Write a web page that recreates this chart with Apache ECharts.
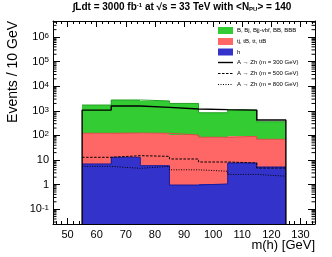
<!DOCTYPE html>
<html><head><meta charset="utf-8">
<script src="https://cdn.jsdelivr.net/npm/echarts@6/dist/echarts.min.js"></script>
<style>html,body{margin:0;padding:0;background:#fff}#c{width:332px;height:257px}</style>
</head><body><div id="c"></div>
<script>
// ---- data ----
const binEdges = [55, 65, 75, 85, 95, 105, 115, 125];
const higgs   = [6.9, 12.9, 5.9, 0.96, 1.06, 7.6, 5.2];          // h
const topBkg  = [115, 112, 116, 103, 83, 84, 64];                // tj, tB, tt, ttB
const bBkg    = [1598, 2635, 2408, 1896, 751, 988, 291];         // B, Bj, Bjj-vbf, BB, BBB
const sig300  = [1070, 1570, 1380, 1180, 1120, 1070, 424];
const sig500  = [12.9, 15, 14.1, 11, 8.3, 7.6, 4.7];
const sig800  = [5.5, 4.6, 5.5, 4.0, 3.5, 2.6, 2.2];
const xTickValues = [50, 60, 70, 80, 90, 100, 110, 120, 130];
const legendLabels = ['B, Bj, Bjj-vbf, BB, BBB', 'tj, tB, tt, ttB', 'h',
  'A \u2192 Zh (m = 300 GeV)', 'A \u2192 Zh (m = 500 GeV)', 'A \u2192 Zh (m = 800 GeV)'];

const X_MIN = 45, X_MAX = 135, Y_MIN = 0.025, Y_MAX = 4.5e6;
const FONT = '"Liberation Sans", Arial, sans-serif';
const C_GREEN = '#33cc33', C_RED = '#ff6666', C_BLUE = '#3333cc';

// stacked tops
const blueTop = higgs.slice();
const redTop = higgs.map((v, i) => v + topBkg[i]);
const greenTop = redTop.map((v, i) => v + bBkg[i]);
const blueBot = higgs.map(() => Y_MIN);

function bandData(bot, top) {
  return top.map((t, i) => [binEdges[i], binEdges[i + 1], bot[i], t]);
}
function stepData(vals, closed) {
  const d = [];
  if (closed) d.push([binEdges[0], Y_MIN]);
  vals.forEach((v, i) => d.push([binEdges[i], v]));
  d.push([binEdges[vals.length], vals[vals.length - 1]]);
  if (closed) d.push([binEdges[vals.length], Y_MIN]);
  return d;
}
function bandSeries(bot, top, color, z) {
  return {
    type: 'custom', silent: true, z: z,
    encode: { x: [0, 1], y: [2, 3] },
    data: bandData(bot, top),
    renderItem: function (params, api) {
      const p0 = api.coord([api.value(0), api.value(3)]);
      const p1 = api.coord([api.value(1), api.value(2)]);
      const x0 = Math.round(p0[0]), x1 = Math.round(p1[0]);
      return { type: 'rect', shape: { x: x0, y: p0[1], width: x1 - x0, height: p1[1] - p0[1] },
        style: { fill: color } };
    }
  };
}
function lineSeries(vals, color, type, width, z, closed) {
  return { type: 'line', step: 'end', symbol: 'none', silent: true, z: z,
    data: stepData(vals, closed), lineStyle: { color: color, type: type, width: width } };
}

// minor log ticks 2..9
const minorY = [];
for (let n = -2; n <= 7; n++) for (let k = 2; k <= 9; k++) {
  const v = k * Math.pow(10, n);
  if (v > Y_MIN && v < Y_MAX) minorY.push([X_MIN, v]);
}

const axisCommon = {
  axisLine: { show: true, onZero: false, lineStyle: { color: '#000', width: 1 } },
  splitLine: { show: false }
};

const chart = echarts.init(document.getElementById('c'), null, { renderer: 'canvas' });
chart.setOption({
  animation: false,
  grid: { left: 53, right: 17, top: 21, bottom: 33 },
  xAxis: [
    Object.assign({ type: 'value', min: X_MIN, max: X_MAX, splitNumber: 9, position: 'bottom',
      axisTick: { show: true, inside: true, length: 6, lineStyle: { color: '#000' } },
      minorTick: { show: true, splitNumber: 5, length: 3, lineStyle: { color: '#000' } },
      axisLabel: { show: true, showMinLabel: false, showMaxLabel: false, color: '#000',
        fontFamily: FONT, fontSize: 11, margin: 5,
        formatter: v => (xTickValues.indexOf(v) >= 0 ? String(v) : '') } }, axisCommon),
    Object.assign({ type: 'value', min: X_MIN, max: X_MAX, splitNumber: 9, position: 'top',
      axisTick: { show: true, inside: true, length: 6, lineStyle: { color: '#000' } },
      minorTick: { show: true, splitNumber: 5, length: 3, lineStyle: { color: '#000' } },
      axisLabel: { show: false } }, axisCommon)
  ],
  yAxis: [
    Object.assign({ type: 'log', logBase: 10, min: Y_MIN, max: Y_MAX, position: 'left',
      axisTick: { show: true, inside: true, length: 7, lineStyle: { color: '#000' } },
      axisLabel: { show: true, showMinLabel: false, showMaxLabel: false, color: '#000',
        fontFamily: FONT, fontSize: 11, margin: 4,
        formatter: function (v) {
          const e = Math.round(Math.log10(v));
          if (e === 0) return '1';
          if (e === 1) return '10';
          return '10{s|' + e + '}';
        },
        rich: { s: { fontSize: 8, fontFamily: FONT, color: '#000', verticalAlign: 'top', padding: [0, 0, 0, 0] } } } }, axisCommon),
    Object.assign({ type: 'log', logBase: 10, min: Y_MIN, max: Y_MAX, position: 'right',
      axisTick: { show: true, inside: true, length: 7, lineStyle: { color: '#000' } },
      axisLabel: { show: false } }, axisCommon)
  ],
  series: [
    bandSeries(redTop, greenTop, C_GREEN, 1),
    bandSeries(blueTop, redTop, C_RED, 2),
    bandSeries(blueBot, blueTop, C_BLUE, 3),
    lineSeries(greenTop, '#22a022', 'solid', 1, 4, false),
    lineSeries(redTop, '#e04848', 'solid', 1, 4, false),
    lineSeries(blueTop, '#1a1a99', 'solid', 1, 4, false),
    lineSeries(sig300, '#000', 'solid', 1.4, 6, true),
    lineSeries(sig500, '#000', [2.5, 1.5], 1, 6, false),
    lineSeries(sig800, '#000', [1, 1.5], 1, 6, false),
    { type: 'custom', silent: true, z: 7, encode: { x: 0, y: 1 }, data: minorY,
      renderItem: function (params, api) {
        const p = api.coord([X_MIN, api.value(1)]);
        const q = api.coord([X_MAX, api.value(1)]);
        return { type: 'group', children: [
          { type: 'line', shape: { x1: p[0], y1: p[1], x2: p[0] + 3.5, y2: p[1] }, style: { stroke: '#000', lineWidth: 1 } },
          { type: 'line', shape: { x1: q[0] - 3.5, y1: q[1], x2: q[0], y2: q[1] }, style: { stroke: '#000', lineWidth: 1 } }
        ] };
      } }
  ],
  graphic: [
    { type: 'text', x: 182, y: 2, style: {
        text: '\u222BLdt = 3000 fb{sup|-1} at \u221As = 33 TeV with <N{sub|PU}> = 140',
        font: 'bold 10px ' + FONT, fill: '#000', align: 'center',
        rich: { sup: { fontSize: 6, fontWeight: 'bold', fontFamily: FONT, verticalAlign: 'top' },
                sub: { fontSize: 6, fontWeight: 'bold', fontFamily: FONT, verticalAlign: 'bottom' } } } },
    { type: 'text', x: 6, y: 21, rotation: Math.PI / 2, style: {
        text: 'Events / 10 GeV', font: '14px ' + FONT, fill: '#000', align: 'right', verticalAlign: 'top' } },
    { type: 'text', x: 315, y: 239, style: {
        text: 'm(h) [GeV]', font: '13px ' + FONT, fill: '#000', align: 'right', verticalAlign: 'top' } },
    // legend
    { type: 'rect', shape: { x: 218, y: 27, width: 15, height: 7 }, style: { fill: C_GREEN } },
    { type: 'rect', shape: { x: 218, y: 38, width: 15, height: 7 }, style: { fill: C_RED } },
    { type: 'rect', shape: { x: 218, y: 48.5, width: 15, height: 7 }, style: { fill: C_BLUE } },
    { type: 'line', shape: { x1: 218, y1: 62.5, x2: 233, y2: 62.5 }, style: { stroke: '#000', lineWidth: 1.4 } },
    { type: 'line', shape: { x1: 218, y1: 73.5, x2: 233, y2: 73.5 }, style: { stroke: '#000', lineWidth: 1, lineDash: [2.5, 1.5] } },
    { type: 'line', shape: { x1: 218, y1: 84.5, x2: 233, y2: 84.5 }, style: { stroke: '#000', lineWidth: 1, lineDash: [1, 1.5] } },
    { type: 'text', x: 237, y: 30.5, style: { text: legendLabels[0], font: '6px ' + FONT, fill: '#000', verticalAlign: 'middle' } },
    { type: 'text', x: 237, y: 41.5, style: { text: legendLabels[1], font: '6px ' + FONT, fill: '#000', verticalAlign: 'middle' } },
    { type: 'text', x: 237, y: 52, style: { text: legendLabels[2], font: '6px ' + FONT, fill: '#000', verticalAlign: 'middle' } },
    { type: 'text', x: 237, y: 62.5, style: { text: legendLabels[3], font: '6px ' + FONT, fill: '#000', verticalAlign: 'middle' } },
    { type: 'text', x: 237, y: 73.5, style: { text: legendLabels[4], font: '6px ' + FONT, fill: '#000', verticalAlign: 'middle' } },
    { type: 'text', x: 237, y: 84.5, style: { text: legendLabels[5], font: '6px ' + FONT, fill: '#000', verticalAlign: 'middle' } }
  ]
});
</script></body></html>
